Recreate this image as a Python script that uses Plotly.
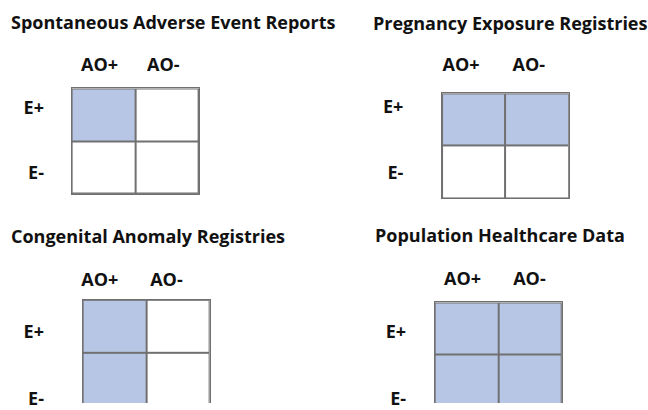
import plotly.graph_objects as go

# ---- data ----
panel_titles = [
    "Spontaneous Adverse Event Reports",
    "Pregnancy Exposure Registries",
    "Congenital Anomaly Registries",
    "Population Healthcare Data",
]
outcome_labels = ["AO+", "AO-"]
exposure_labels = ["E+", "E-"]
# 1 = cell captured by the data source, 0 = not captured (rows: E+, E-; cols: AO+, AO-)
spontaneous_reports = [[1, 0], [0, 0]]
pregnancy_registries = [[1, 1], [0, 0]]
congenital_registries = [[1, 0], [1, 0]]
population_data = [[1, 1], [1, 1]]
panel_cells = [spontaneous_reports, pregnancy_registries, congenital_registries, population_data]

# ---- layout (pixels) ----
W, H = 648, 410
FILL = "#B8C6E6"
LINE = "#707070"
TEXT = "#111111"
FONT = "Open Sans"

panels = [
    dict(l=70.7, r=198.3, t=90.0, b=197.3, ybot=1.5, tx=8, ty=22,
         xt=[-0.06, 0.94], yt=[-0.13, 1.10], xs=9, ys=23, bottom=False),
    dict(l=441.7, r=568.7, t=95.0, b=201.7, ybot=1.5, tx=371, ty=23,
         xt=[-0.20, 0.87], yt=[-0.24, 1.01], xs=14, ys=34, bottom=False),
    dict(l=81.7, r=209.0, t=305.0, b=410.0, ybot=1.444, tx=8, ty=240,
         xt=[-0.23, 0.82], yt=[0.11, 1.36], xs=6, ys=34, bottom=True),
    dict(l=434.3, r=561.7, t=307.7, b=410.0, ybot=1.419, tx=373, ty=239,
         xt=[-0.06, 0.99], yt=[0.06, 1.33], xs=9, ys=24, bottom=True),
]

fig = go.Figure()
annotations = []
for i, (p, z, title) in enumerate(zip(panels, panel_cells, panel_titles)):
    n = "" if i == 0 else str(i + 1)
    fig.add_trace(go.Heatmap(
        z=z, x=outcome_labels, y=exposure_labels,
        zmin=0, zmax=1, colorscale=[[0, "#FFFFFF"], [1, FILL]],
        showscale=False, xgap=2, ygap=2, hoverinfo="skip",
        xaxis="x" + n, yaxis="y" + n,
    ))
    fig.layout["xaxis" + n] = dict(
        domain=[p["l"] / W, p["r"] / W], anchor="y" + n, side="top",
        type="category", range=[-0.5, 1.5], showgrid=False, zeroline=False,
        tickmode="array", tickvals=p["xt"], ticktext=outcome_labels, ticks="",
        ticklabelstandoff=p["xs"],
        tickfont=dict(family=FONT, size=18, color=TEXT, weight="bold"),
        showline=True, linecolor=LINE, linewidth=1, mirror=not p["bottom"],
        fixedrange=True,
    )
    fig.layout["yaxis" + n] = dict(
        domain=[(H - p["b"]) / H, (H - p["t"]) / H], anchor="x" + n,
        type="category", range=[p["ybot"], -0.5], showgrid=False, zeroline=False,
        tickmode="array", tickvals=p["yt"], ticktext=exposure_labels, ticks="",
        ticklabelstandoff=p["ys"],
        tickfont=dict(family=FONT, size=18, color=TEXT, weight="bold"),
        showline=True, linecolor=LINE, linewidth=1, mirror=True,
        fixedrange=True,
    )
    annotations.append(dict(
        text=title, xref="paper", yref="paper",
        x=p["tx"] / W, y=(H - p["ty"]) / H, xanchor="left", yanchor="middle",
        showarrow=False, font=dict(family=FONT, size=18, color=TEXT, weight="bold"),
    ))

fig.update_layout(
    width=W, height=H, margin=dict(l=0, r=0, t=0, b=0),
    paper_bgcolor="white", plot_bgcolor=LINE,
    annotations=annotations, showlegend=False,
)
fig.write_html("out.html", config={"displayModeBar": False},
               post_script="document.body.style.margin='0';")
